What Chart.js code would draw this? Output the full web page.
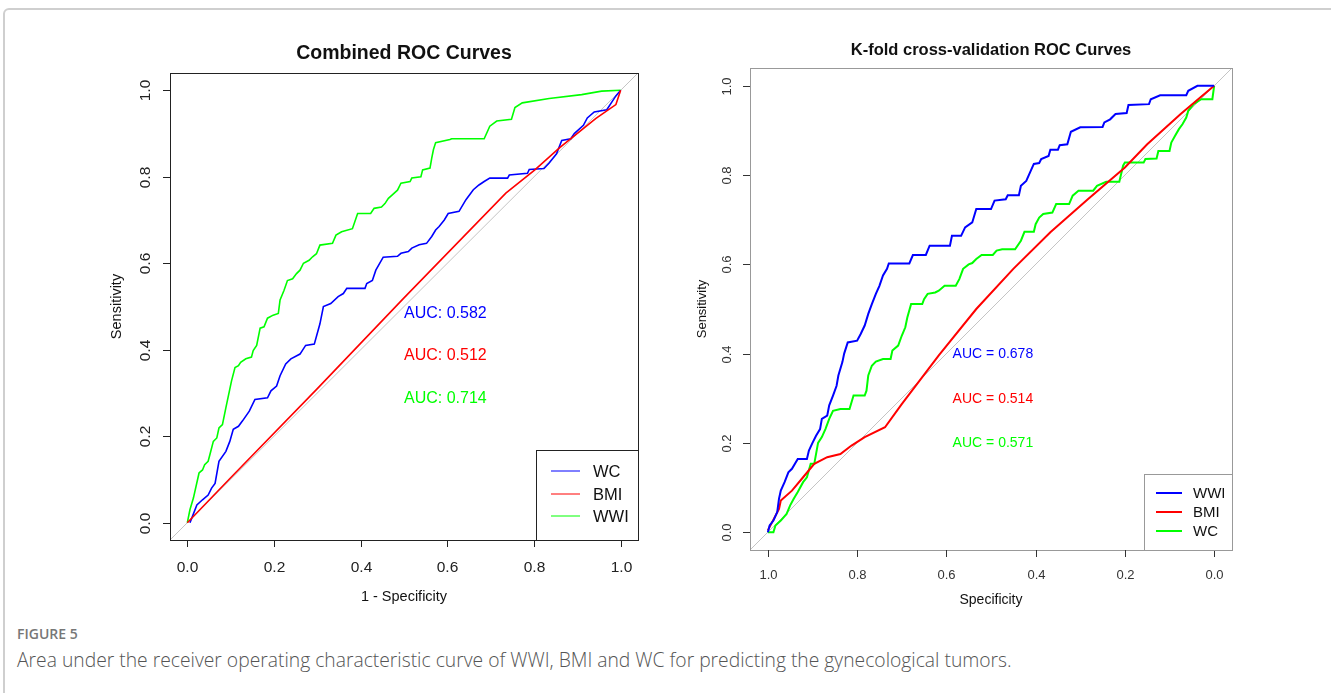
<!DOCTYPE html>
<html>
<head>
<meta charset="utf-8">
<script src="https://cdn.jsdelivr.net/npm/chart.js@4.4.1/dist/chart.umd.min.js"></script>
<style>
  html, body { margin: 0; padding: 0; background: #fff; }
  body { width: 1331px; height: 693px; position: relative; overflow: hidden; }
  .frame { position: absolute; left: 3px; top: 8px; width: 1400px; height: 800px;
           border: 2px solid #cfcfcf; border-radius: 6px; box-sizing: border-box; }
  .cv { position: absolute; top: 0; }
  .fig-no { position: absolute; left: 17px; top: 624px; font: 600 14px "Open Sans", sans-serif; color: #777; }
  .fig-cap { position: absolute; left: 17px; top: 646px; font: 300 19.3px "Open Sans", sans-serif; color: #555; white-space: nowrap; }
</style>
</head>
<body>
<div class="frame"></div>
<div class="cv" style="left:0;width:665px;height:620px"><canvas id="roc-combined"></canvas></div>
<div class="cv" style="left:665px;width:666px;height:620px"><canvas id="roc-kfold"></canvas></div>
<div class="fig-no">FIGURE 5</div>
<div class="fig-cap">Area under the receiver operating characteristic curve of WWI, BMI and WC for predicting the gynecological tumors.</div>

<script>
// ---- data: left panel, [1 - specificity, sensitivity]
const combinedWWI = [[0,0],[0.006,0.03],[0.014,0.057],[0.027,0.115],[0.035,0.122],[0.04,0.134],[0.048,0.142],[0.052,0.157],[0.06,0.188],[0.068,0.196],[0.073,0.219],[0.081,0.227],[0.089,0.266],[0.098,0.309],[0.102,0.328],[0.11,0.359],[0.118,0.363],[0.123,0.371],[0.135,0.379],[0.148,0.383],[0.152,0.398],[0.16,0.41],[0.168,0.45],[0.177,0.453],[0.185,0.473],[0.198,0.48],[0.21,0.484],[0.214,0.515],[0.223,0.537],[0.231,0.56],[0.243,0.564],[0.252,0.576],[0.26,0.584],[0.268,0.6],[0.281,0.607],[0.289,0.615],[0.298,0.622],[0.306,0.642],[0.335,0.646],[0.343,0.665],[0.356,0.673],[0.381,0.68],[0.393,0.715],[0.423,0.715],[0.431,0.727],[0.448,0.73],[0.456,0.738],[0.464,0.75],[0.473,0.758],[0.485,0.769],[0.493,0.785],[0.514,0.789],[0.518,0.797],[0.539,0.8],[0.543,0.816],[0.56,0.82],[0.564,0.843],[0.568,0.863],[0.573,0.879],[0.606,0.886],[0.61,0.888],[0.685,0.888],[0.698,0.917],[0.714,0.929],[0.748,0.933],[0.756,0.96],[0.773,0.971],[0.835,0.981],[0.91,0.99],[0.956,0.998],[1,1]]
const combinedWC = [[0.006,0],[0.01,0.01],[0.022,0.041],[0.035,0.053],[0.048,0.064],[0.056,0.08],[0.064,0.091],[0.073,0.142],[0.089,0.165],[0.098,0.188],[0.106,0.216],[0.118,0.223],[0.127,0.235],[0.143,0.258],[0.156,0.285],[0.185,0.289],[0.193,0.305],[0.206,0.316],[0.214,0.34],[0.227,0.367],[0.239,0.379],[0.26,0.39],[0.273,0.41],[0.293,0.413],[0.306,0.46],[0.314,0.5],[0.331,0.507],[0.348,0.523],[0.36,0.53],[0.368,0.542],[0.41,0.542],[0.414,0.553],[0.427,0.56],[0.435,0.584],[0.452,0.614],[0.485,0.616],[0.493,0.623],[0.51,0.627],[0.518,0.635],[0.535,0.643],[0.552,0.646],[0.564,0.662],[0.573,0.677],[0.581,0.685],[0.593,0.7],[0.602,0.715],[0.627,0.72],[0.643,0.747],[0.66,0.77],[0.673,0.781],[0.685,0.789],[0.698,0.797],[0.739,0.797],[0.743,0.804],[0.785,0.808],[0.789,0.817],[0.823,0.819],[0.835,0.832],[0.852,0.853],[0.864,0.884],[0.885,0.888],[0.893,0.9],[0.914,0.919],[0.923,0.936],[0.939,0.95],[0.968,0.955],[0.981,0.975],[0.989,0.987],[1,1]]
const combinedBMI = [[0,0],[0.1,0.104],[0.3,0.31],[0.5,0.52],[0.735,0.762],[0.802,0.816],[0.86,0.868],[0.943,0.935],[0.989,0.967],[1,1]]
const combinedAUC = ['AUC: 0.582', 'AUC: 0.512', 'AUC: 0.714']

// ---- data: right panel, [specificity, sensitivity]
const kfoldWWI = [[1,0],[0.996,0.015],[0.9875,0.026],[0.979,0.045],[0.975,0.075],[0.971,0.093],[0.9625,0.112],[0.954,0.134],[0.946,0.142],[0.933,0.164],[0.9125,0.164],[0.908,0.183],[0.9,0.2],[0.892,0.216],[0.883,0.231],[0.879,0.254],[0.867,0.261],[0.8625,0.284],[0.854,0.306],[0.846,0.328],[0.842,0.351],[0.833,0.381],[0.829,0.4],[0.821,0.425],[0.8,0.429],[0.792,0.444],[0.783,0.463],[0.775,0.489],[0.767,0.511],[0.758,0.534],[0.75,0.552],[0.742,0.575],[0.733,0.59],[0.729,0.602],[0.683,0.602],[0.675,0.621],[0.646,0.621],[0.6375,0.642],[0.592,0.642],[0.5875,0.664],[0.567,0.664],[0.558,0.683],[0.542,0.694],[0.533,0.724],[0.5,0.724],[0.492,0.743],[0.467,0.746],[0.4625,0.755],[0.4375,0.755],[0.433,0.776],[0.421,0.787],[0.4125,0.806],[0.404,0.825],[0.392,0.827],[0.3875,0.836],[0.371,0.843],[0.367,0.857],[0.35,0.857],[0.346,0.867],[0.329,0.869],[0.321,0.897],[0.3,0.907],[0.25,0.908],[0.246,0.918],[0.233,0.925],[0.221,0.937],[0.196,0.939],[0.192,0.957],[0.146,0.959],[0.142,0.97],[0.121,0.979],[0.0625,0.979],[0.058,0.989],[0.0375,1],[0,1]]
const kfoldBMI = [[1,0.004],[0.975,0.052],[0.971,0.071],[0.946,0.093],[0.921,0.123],[0.896,0.153],[0.867,0.168],[0.8375,0.175],[0.8125,0.194],[0.783,0.213],[0.7375,0.235],[0.7,0.287],[0.617,0.396],[0.533,0.5],[0.45,0.59],[0.367,0.672],[0.283,0.746],[0.2,0.817],[0.15,0.869],[0.075,0.937],[0,1]]
const kfoldWC = [[1,0],[0.9875,0],[0.983,0.015],[0.971,0.026],[0.958,0.041],[0.95,0.06],[0.942,0.075],[0.933,0.09],[0.921,0.112],[0.9125,0.123],[0.904,0.153],[0.896,0.153],[0.8875,0.2],[0.879,0.213],[0.871,0.231],[0.8625,0.254],[0.854,0.272],[0.8375,0.276],[0.817,0.276],[0.8125,0.291],[0.808,0.306],[0.783,0.306],[0.779,0.317],[0.775,0.351],[0.767,0.373],[0.758,0.382],[0.742,0.388],[0.725,0.388],[0.721,0.407],[0.708,0.418],[0.7,0.44],[0.692,0.459],[0.6875,0.481],[0.679,0.511],[0.654,0.511],[0.65,0.522],[0.642,0.534],[0.625,0.537],[0.617,0.541],[0.604,0.552],[0.579,0.552],[0.571,0.567],[0.5625,0.59],[0.55,0.6],[0.542,0.603],[0.533,0.612],[0.521,0.621],[0.496,0.621],[0.4875,0.631],[0.475,0.634],[0.446,0.634],[0.433,0.653],[0.425,0.673],[0.404,0.673],[0.4,0.69],[0.392,0.705],[0.383,0.713],[0.3625,0.716],[0.354,0.735],[0.325,0.735],[0.317,0.754],[0.304,0.765],[0.271,0.765],[0.2625,0.776],[0.242,0.785],[0.2125,0.785],[0.204,0.821],[0.2,0.828],[0.158,0.828],[0.154,0.836],[0.129,0.837],[0.125,0.854],[0.1,0.854],[0.096,0.873],[0.0875,0.888],[0.079,0.903],[0.071,0.914],[0.0625,0.929],[0.058,0.944],[0.046,0.959],[0.029,0.97],[0.004,0.97],[0,1]]
const kfoldAUC = ['AUC = 0.678', 'AUC = 0.514', 'AUC = 0.571']

const tickValues = [0, 0.2, 0.4, 0.6, 0.8, 1]
const tickLabels = ['0.0', '0.2', '0.4', '0.6', '0.8', '1.0']
const diagonalUp   = [[-0.04, -0.04], [1.04, 1.04]]   // 1-spec vs sens
const diagonalDown = [[1.04, -0.04], [-0.04, 1.04]]   // spec vs sens

const BLUE = '#0000ff', RED = '#ff0000', GREEN = '#00ff00'
const FONT = '"Liberation Sans", Arial, sans-serif'

const toXY = arr => arr.map(([x, y]) => ({ x, y }))

// everything R draws around the plot region
const rocDecor = {
  id: 'rocDecor',
  afterDraw(chart, args, o) {
    const { ctx, chartArea: a, scales: { x, y } } = chart
    ctx.save()
    ctx.strokeStyle = o.boxColor
    ctx.lineWidth = 1
    ctx.strokeRect(a.left + 0.5, a.top + 0.5, a.right - a.left, a.bottom - a.top)

    // ticks + labels
    ctx.strokeStyle = o.tickColor
    ctx.fillStyle = o.tickColor
    ctx.font = `${o.tickSize}px ${FONT}`
    ctx.textAlign = 'center'
    ctx.textBaseline = 'middle'
    tickValues.forEach((v, i) => {
      const px = Math.round(x.getPixelForValue(v)) + 0.5
      ctx.beginPath(); ctx.moveTo(px, a.bottom); ctx.lineTo(px, a.bottom + o.tickLen); ctx.stroke()
      ctx.fillText(tickLabels[i], px, a.bottom + o.xTickGap)
      const py = Math.round(y.getPixelForValue(v)) + 0.5
      ctx.beginPath(); ctx.moveTo(a.left, py); ctx.lineTo(a.left - o.tickLen, py); ctx.stroke()
      ctx.save(); ctx.translate(a.left - o.yTickGap, py); ctx.rotate(-Math.PI / 2)
      ctx.fillText(tickLabels[i], 0, 0); ctx.restore()
    })

    // axis titles
    ctx.fillStyle = '#111'
    ctx.font = `${o.labelSize}px ${FONT}`
    ctx.fillText(o.xLabel, (a.left + a.right) / 2, a.bottom + o.xLabelGap)
    ctx.font = `${o.yLabelSize}px ${FONT}`
    ctx.save(); ctx.translate(a.left - o.yLabelGap, (a.top + a.bottom) / 2); ctx.rotate(-Math.PI / 2)
    ctx.fillText('Sensitivity', 0, 0); ctx.restore()

    // main title
    ctx.font = `bold ${o.titleSize}px ${FONT}`
    ctx.fillText(o.title, (a.left + a.right) / 2, a.top - o.titleGap)

    // AUC annotations
    ctx.font = `${o.aucSize}px ${FONT}`
    ctx.textAlign = 'left'
    o.auc.forEach((t, i) => {
      ctx.fillStyle = o.aucColors[i]
      ctx.fillText(t, x.getPixelForValue(o.aucX), y.getPixelForValue(o.aucY[i]))
    })

    // legend box in bottom-right corner
    const L = o.legend
    const bx = a.right - L.w, by = a.bottom - L.h
    ctx.fillStyle = '#fff'
    ctx.fillRect(bx, by, L.w, L.h)
    ctx.strokeStyle = o.boxColor
    ctx.strokeRect(bx + 0.5, by + 0.5, L.w, L.h)
    ctx.font = `${L.size}px ${FONT}`
    ctx.lineWidth = L.lineWidth
    L.items.forEach((it, i) => {
      const ly = by + L.rows[i]
      ctx.strokeStyle = it.color
      ctx.beginPath(); ctx.moveTo(bx + L.x0, ly); ctx.lineTo(bx + L.x1, ly); ctx.stroke()
      ctx.fillStyle = '#111'
      ctx.fillText(it.label, bx + L.tx, ly + 1)
    })
    ctx.restore()
  }
}

function rocChart(id, datasets, padding, reverse, decor) {
  return new Chart(document.getElementById(id), {
    type: 'scatter',
    data: { datasets },
    options: {
      responsive: true, maintainAspectRatio: false, animation: false,
      layout: { padding },
      plugins: { legend: { display: false }, tooltip: { enabled: false }, rocDecor: decor },
      elements: { point: { radius: 0 }, line: { tension: 0 } },
      scales: {
        x: { type: 'linear', min: -0.04, max: 1.04, reverse, display: false },
        y: { type: 'linear', min: -0.04, max: 1.04, display: false },
      },
    },
    plugins: [rocDecor],
  })
}

const line = (data, color, width, order) => ({
  data: toXY(data), showLine: true, borderColor: color, borderWidth: width, order,
})

rocChart('roc-combined', [
  line(diagonalUp, '#c4c4c4', 1, 4),
  line(combinedWWI, GREEN, 1.6, 3),
  line(combinedWC, BLUE, 1.6, 2),
  line(combinedBMI, RED, 1.6, 1),
], { left: 170, top: 73, right: 27, bottom: 80 }, false, {
  title: 'Combined ROC Curves', titleSize: 19.5, titleGap: 19,
  xLabel: '1 - Specificity', labelSize: 14.5, yLabelSize: 14.5, xLabelGap: 57, yLabelGap: 53,
  tickSize: 15.5, tickLen: 7, xTickGap: 28, yTickGap: 24,
  boxColor: '#222', tickColor: '#222',
  auc: combinedAUC, aucColors: [BLUE, RED, GREEN], aucSize: 16, aucX: 0.5, aucY: [0.484, 0.386, 0.286],
  legend: { w: 102, h: 90, x0: 15, x1: 44, tx: 57, rows: [21, 44, 66], size: 16.5, lineWidth: 1,
    items: [{ label: 'WC', color: BLUE }, { label: 'BMI', color: RED }, { label: 'WWI', color: GREEN }] },
})

rocChart('roc-kfold', [
  line(diagonalDown, '#c4c4c4', 1, 4),
  line(kfoldWC, GREEN, 2, 3),
  line(kfoldBMI, RED, 2, 2),
  line(kfoldWWI, BLUE, 2, 1),
], { left: 85, top: 68, right: 99, bottom: 70 }, true, {
  title: 'K-fold cross-validation ROC Curves', titleSize: 16.5, titleGap: 18,
  xLabel: 'Specificity', labelSize: 14, yLabelSize: 13, xLabelGap: 50, yLabelGap: 48,
  tickSize: 13, tickLen: 7, xTickGap: 25, yTickGap: 23,
  boxColor: '#999', tickColor: '#333',
  auc: kfoldAUC, aucColors: [BLUE, RED, GREEN], aucSize: 14, aucX: 0.586, aucY: [0.399, 0.298, 0.199],
  legend: { w: 88, h: 76, x0: 12, x1: 38, tx: 49, rows: [19, 38, 57], size: 15, lineWidth: 2,
    items: [{ label: 'WWI', color: BLUE }, { label: 'BMI', color: RED }, { label: 'WC', color: GREEN }] },
})
</script>
</body>
</html>
